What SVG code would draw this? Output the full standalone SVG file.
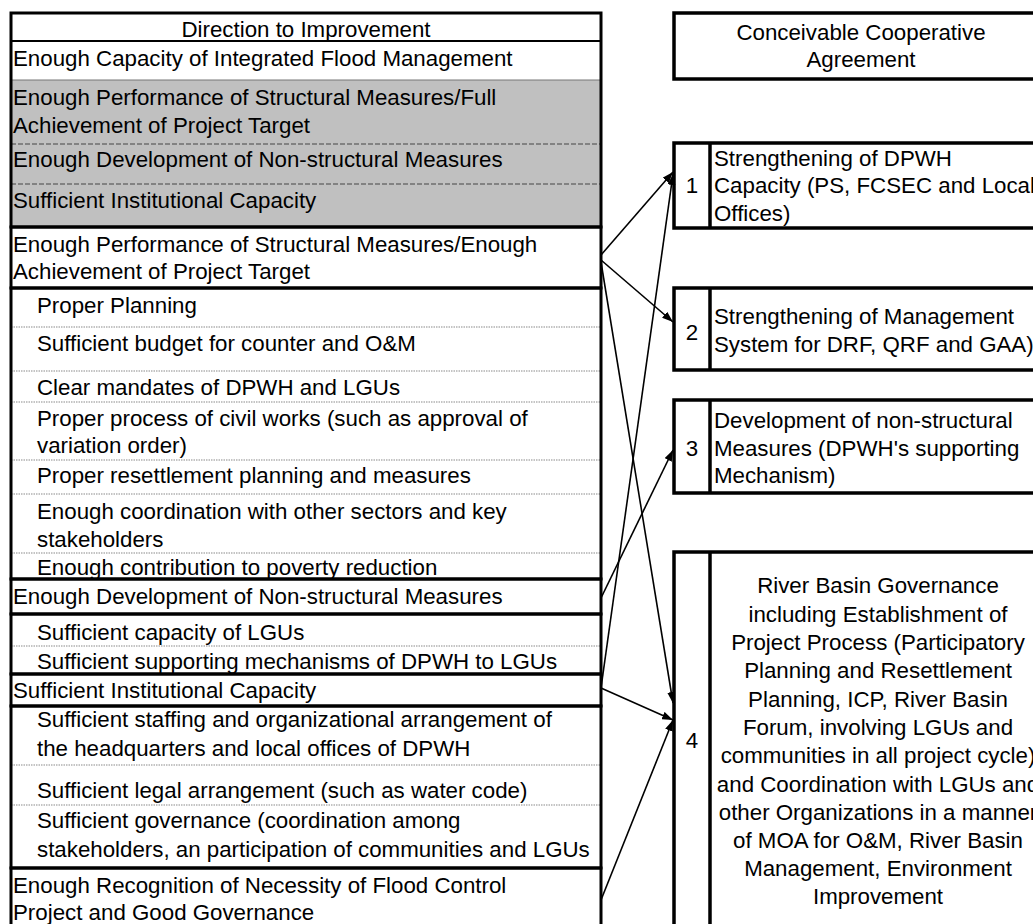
<svg xmlns="http://www.w3.org/2000/svg" width="1033" height="924" viewBox="0 0 1033 924">
<style>
.t{font-family:"Liberation Sans",Arial,sans-serif;font-size:22.3px;fill:#000}
.c{text-anchor:middle}
.bg{fill:#fff}
.gray{fill:#c0c0c0}
.thick{fill:none;stroke:#000;stroke-width:3}
.box{fill:#fff;stroke:#000;stroke-width:3.5}
.div{stroke:#000;stroke-width:3.5}
.dot{stroke:#8a8a8a;stroke-width:1.2;stroke-dasharray:1.5 1}
.dash{stroke:#444;stroke-width:1;stroke-dasharray:5 2}
.hair{stroke:#777;stroke-width:1}
.conn{fill:none;stroke:#000;stroke-width:1.6;marker-end:url(#ah)}
</style>
<defs>
<marker id="ah" markerUnits="userSpaceOnUse" markerWidth="11" markerHeight="8" refX="11" refY="4" orient="auto">
<path d="M0,0 L11,4 L0,8 z" fill="#000"/>
</marker>
</defs>
<rect x="0" y="0" width="1033" height="924" fill="#fff"/>

<!-- Left table rows -->
<g id="row-header"><rect class="bg" x="11" y="13" width="590" height="28"/><text class="t c" x="306" y="37">Direction to Improvement</text></g>
<g id="row-capacity"><rect class="bg" x="11" y="41" width="590" height="39"/><text class="t" x="13" y="66">Enough Capacity of Integrated Flood Management</text></g>
<g id="row-gray-structural"><rect class="gray" x="11" y="80" width="590" height="64"/><text class="t" x="13" y="105">Enough Performance of Structural Measures/Full</text><text class="t" x="13" y="133">Achievement of Project Target</text></g>
<g id="row-gray-nonstructural"><rect class="gray" x="11" y="144" width="590" height="40"/><text class="t" x="13" y="167">Enough Development of Non-structural Measures</text></g>
<g id="row-gray-institutional"><rect class="gray" x="11" y="184" width="590" height="43"/><text class="t" x="13" y="208">Sufficient Institutional Capacity</text></g>
<g id="row-structural"><rect class="bg" x="11" y="227" width="590" height="61"/><text class="t" x="13" y="252">Enough Performance of Structural Measures/Enough</text><text class="t" x="13" y="279">Achievement of Project Target</text></g>
<g id="row-planning"><text class="t" x="37" y="313">Proper Planning</text></g>
<g id="row-budget"><text class="t" x="37" y="351">Sufficient budget for counter and O&amp;M</text></g>
<g id="row-mandates"><text class="t" x="37" y="395">Clear mandates of DPWH and LGUs</text></g>
<g id="row-civilworks"><text class="t" x="37" y="426">Proper process of civil works (such as approval of</text><text class="t" x="37" y="453">variation order)</text></g>
<g id="row-resettlement"><text class="t" x="37" y="483">Proper resettlement planning and measures</text></g>
<g id="row-coordination"><text class="t" x="37" y="519">Enough coordination with other sectors and key</text><text class="t" x="37" y="547">stakeholders</text></g>
<g id="row-poverty"><text class="t" x="37" y="575">Enough contribution to poverty reduction</text></g>
<g id="row-nonstructural"><text class="t" x="13" y="604">Enough Development of Non-structural Measures</text></g>
<g id="row-lgu-capacity"><text class="t" x="37" y="640">Sufficient capacity of LGUs</text></g>
<g id="row-supporting"><text class="t" x="37" y="669">Sufficient supporting mechanisms of DPWH to LGUs</text></g>
<g id="row-institutional"><text class="t" x="13" y="698">Sufficient Institutional Capacity</text></g>
<g id="row-staffing"><text class="t" x="37" y="727">Sufficient staffing and organizational arrangement of</text><text class="t" x="37" y="756">the headquarters and local offices of DPWH</text></g>
<g id="row-legal"><text class="t" x="37" y="798">Sufficient legal arrangement (such as water code)</text></g>
<g id="row-governance"><text class="t" x="37" y="828">Sufficient governance (coordination among</text><text class="t" x="37" y="857">stakeholders, an participation of communities and LGUs</text></g>
<g id="row-recognition"><text class="t" x="13" y="893">Enough Recognition of Necessity of Flood Control</text><text class="t" x="13" y="920">Project and Good Governance</text></g>

<!-- Left table grid -->
<g id="grid">
<line x1="11" y1="41" x2="601" y2="41" stroke="#000" stroke-width="2"/>
<line class="hair" x1="11" y1="80" x2="601" y2="80"/>
<line class="dash" x1="11" y1="144" x2="601" y2="144"/>
<line class="dash" x1="11" y1="184" x2="601" y2="184"/>
<line class="dot" x1="11" y1="327" x2="601" y2="327"/>
<line class="dot" x1="11" y1="371" x2="601" y2="371"/>
<line class="dot" x1="11" y1="402" x2="601" y2="402"/>
<line class="dot" x1="11" y1="460" x2="601" y2="460"/>
<line class="dot" x1="11" y1="494" x2="601" y2="494"/>
<line class="dot" x1="11" y1="553" x2="601" y2="553"/>
<line class="dot" x1="11" y1="646" x2="601" y2="646"/>
<line class="dot" x1="11" y1="765" x2="601" y2="765"/>
<line class="dot" x1="11" y1="805" x2="601" y2="805"/>
<rect class="thick" x="11" y="13" width="590" height="214"/>
<rect class="thick" x="11" y="227" width="590" height="61"/>
<rect class="thick" x="11" y="288" width="590" height="291"/>
<rect class="thick" x="11" y="579" width="590" height="35"/>
<rect class="thick" x="11" y="614" width="590" height="60"/>
<rect class="thick" x="11" y="674" width="590" height="32"/>
<rect class="thick" x="11" y="706" width="590" height="162"/>
<rect class="thick" x="11" y="868" width="590" height="70"/>
</g>

<!-- Right boxes -->
<g id="agreement-header"><rect class="box" x="674" y="13" width="380" height="66"/><text class="t c" x="861" y="40">Conceivable Cooperative</text><text class="t c" x="861" y="67">Agreement</text></g>
<g id="agreement-1"><rect class="box" x="674" y="143" width="380" height="85"/><line class="div" x1="710" y1="143" x2="710" y2="228"/><text class="t c" x="692" y="193">1</text><text class="t" x="714" y="166">Strengthening of DPWH</text><text class="t" x="714" y="193">Capacity (PS, FCSEC and Local</text><text class="t" x="714" y="221">Offices)</text></g>
<g id="agreement-2"><rect class="box" x="674" y="288" width="380" height="82"/><line class="div" x1="710" y1="288" x2="710" y2="370"/><text class="t c" x="692" y="340">2</text><text class="t" x="714" y="324">Strengthening of Management</text><text class="t" x="714" y="352">System for DRF, QRF and GAA)</text></g>
<g id="agreement-3"><rect class="box" x="674" y="400" width="380" height="93"/><line class="div" x1="710" y1="400" x2="710" y2="493"/><text class="t c" x="692" y="456">3</text><text class="t" x="714" y="428">Development of non-structural</text><text class="t" x="714" y="456">Measures (DPWH's supporting</text><text class="t" x="714" y="483">Mechanism)</text></g>
<g id="agreement-4"><rect class="box" x="674" y="552" width="380" height="390"/><line class="div" x1="710" y1="552" x2="710" y2="942"/><text class="t c" x="692" y="748">4</text>
<text class="t c" x="878" y="593">River Basin Governance</text>
<text class="t c" x="878" y="622">including Establishment of</text>
<text class="t c" x="878" y="650">Project Process (Participatory</text>
<text class="t c" x="878" y="678">Planning and Resettlement</text>
<text class="t c" x="878" y="707">Planning, ICP, River Basin</text>
<text class="t c" x="878" y="735">Forum, involving LGUs and</text>
<text class="t c" x="878" y="763">communities in all project cycle)</text>
<text class="t c" x="878" y="792">and Coordination with LGUs and</text>
<text class="t c" x="878" y="820">other Organizations in a manner</text>
<text class="t c" x="878" y="848">of MOA for O&amp;M, River Basin</text>
<text class="t c" x="878" y="876">Management, Environment</text>
<text class="t c" x="878" y="904">Improvement</text>
</g>

<!-- Connectors -->
<g id="connectors">
<line class="conn" x1="601" y1="255" x2="673" y2="172"/>
<line class="conn" x1="601" y1="260" x2="673" y2="322"/>
<line class="conn" x1="601" y1="262" x2="673" y2="703"/>
<line class="conn" x1="601" y1="598" x2="673" y2="450"/>
<line class="conn" x1="601" y1="688" x2="673" y2="174"/>
<line class="conn" x1="601" y1="688" x2="673" y2="720"/>
<line class="conn" x1="601" y1="900" x2="673" y2="720"/>
</g>
</svg>
